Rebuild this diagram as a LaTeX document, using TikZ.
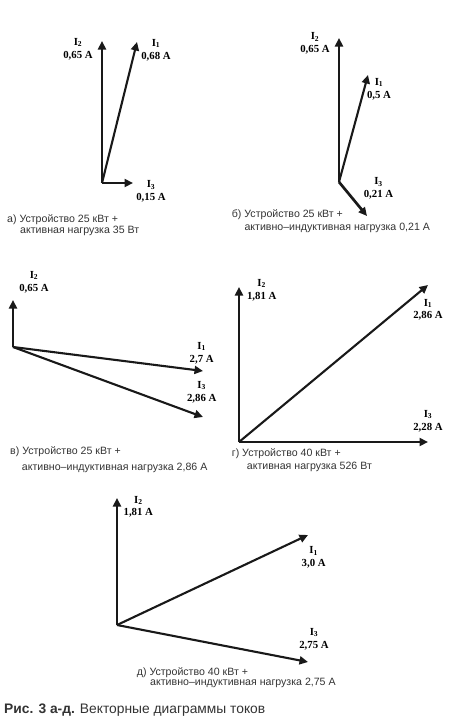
\documentclass[tikz,border=0pt]{standalone}
\usepackage{fontspec}
\setmainfont{Liberation Serif}
\newfontfamily\capfont{Liberation Sans}
\usetikzlibrary{arrows.meta}

\begin{document}
\begin{tikzpicture}[x=1pt, y=-1pt,
    >={Triangle[length=8.5pt, width=8pt]},
    vec/.style={->, line width=2.1pt, black!90},
    vecmain/.style={vec, line width=2.7pt},
    val/.style={align=center, inner sep=0pt, font=\fontsize{10.8}{12.8}\selectfont\bfseries},
    sign/.style={anchor=west, inner sep=0pt, text=black!80, font=\capfont\fontsize{10.6}{12}\selectfont}]
    \useasboundingbox (0,0) rectangle (450,728);

    % а) активная нагрузка 35 Вт
    \coordinate (Oa) at (102,183);
    \coordinate (a1) at (137,42);
    \coordinate (a2) at (102,41);
    \coordinate (a3) at (133,183);
    \draw[vecmain] (Oa) -- (a2);
    \draw[vec] (Oa) -- (a1);
    \draw[vec] (Oa) -- (a3);
    \node[val] (la2) at (78,49) {I\textsubscript{2}\\0,65 A};
    \node[val] (la1) at (156,50) {I\textsubscript{1}\\0,68 A};
    \node[val] (la3) at (151,191.5) {I\textsubscript{3}\\0,15 A};
    \node[sign] (sa1) at (7,220) {а) Устройство 25 кВт +};
    \node[sign] (sa2) at (20,230.7) {активная нагрузка 35 Вт};

    % б) активно-индуктивная нагрузка 0,21 А
    \coordinate (Ob) at (339,182);
    \coordinate (b1) at (368,75);
    \coordinate (b2) at (339,38);
    \coordinate (b3) at (367,216);
    \draw[vecmain] (Ob) -- (b2);
    \draw[vec] (Ob) -- (b1);
    \draw[vecmain] (Ob) -- (b3);
    \node[val] (lb2) at (315,43.3) {I\textsubscript{2}\\0,65 A};
    \node[val] (lb1) at (379,89) {I\textsubscript{1}\\0,5 A};
    \node[val] (lb3) at (378.5,188.5) {I\textsubscript{3}\\0,21 A};
    \node[sign] (sb1) at (231.7,214.3) {б) Устройство 25 кВт +};
    \node[sign] (sb2) at (244.3,228.3) {активно–индуктивная нагрузка 0,21 А};

    % в) активно-индуктивная нагрузка 2,86 А
    \coordinate (Ov) at (13,347);
    \coordinate (v1) at (203,371);
    \coordinate (v2) at (13,300);
    \coordinate (v3) at (203,417);
    \draw[vecmain] (Ov) -- (v2);
    \draw[vec] (Ov) -- (v1);
    \draw[vec] (Ov) -- (v3);
    \node[val] (lv2) at (34,282) {I\textsubscript{2}\\0,65 A};
    \node[val] (lv1) at (201.7,353) {I\textsubscript{1}\\2,7 A};
    \node[val] (lv3) at (201.7,392) {I\textsubscript{3}\\2,86 A};
    \node[sign] (sv1) at (10,451.7) {в) Устройство 25 кВт +};
    \node[sign] (sv2) at (21.7,468.3) {активно–индуктивная нагрузка 2,86 А};

    % г) активная нагрузка 526 Вт
    \coordinate (Og) at (239,442);
    \coordinate (g1) at (428,285);
    \coordinate (g2) at (239,287);
    \coordinate (g3) at (428,442);
    \draw[vecmain] (Og) -- (g2);
    \draw[vec] (Og) -- (g1);
    \draw[vec] (Og) -- (g3);
    \node[val] (lg2) at (261.7,290) {I\textsubscript{2}\\1,81 A};
    \node[val] (lg1) at (428,309.7) {I\textsubscript{1}\\2,86 A};
    \node[val] (lg3) at (428,421) {I\textsubscript{3}\\2,28 A};
    \node[sign] (sg1) at (231.7,453.3) {г) Устройство 40 кВт +};
    \node[sign] (sg2) at (246.7,466.7) {активная нагрузка 526 Вт};

    % д) активно-индуктивная нагрузка 2,75 А
    \coordinate (Od) at (117,625);
    \coordinate (d1) at (308,535);
    \coordinate (d2) at (117,498);
    \coordinate (d3) at (308,662);
    \draw[vecmain] (Od) -- (d2);
    \draw[vec] (Od) -- (d1);
    \draw[vec] (Od) -- (d3);
    \node[val] (ld2) at (138.3,506.7) {I\textsubscript{2}\\1,81 A};
    \node[val] (ld1) at (313.7,557.5) {I\textsubscript{1}\\3,0 A};
    \node[val] (ld3) at (314,639) {I\textsubscript{3}\\2,75 A};
    \node[sign] (sd1) at (136.7,672.7) {д) Устройство 40 кВт +};
    \node[sign] (sd2) at (150,683.3) {активно–индуктивная нагрузка 2,75 А};

    % подпись рисунка
    \node[sign, font=\capfont\fontsize{13.8}{15}\selectfont] (fig) at (4,710)
        {\textbf{Рис. 3 а-д.} Векторные диаграммы токов};
\end{tikzpicture}
\end{document}
